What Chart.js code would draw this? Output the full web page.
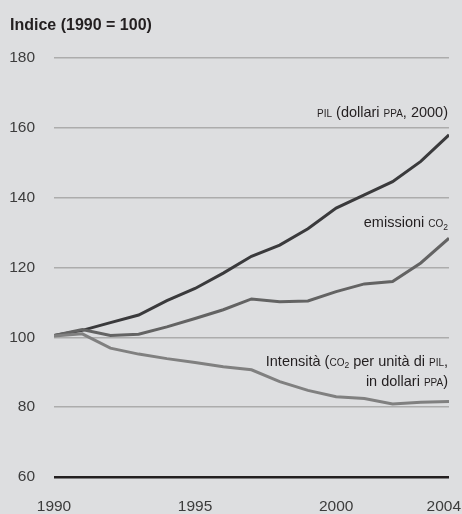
<!DOCTYPE html>
<html>
<head>
<meta charset="utf-8">
<script src="https://cdn.jsdelivr.net/npm/chart.js@4"></script>
<style>
html, body { margin: 0; padding: 0; background: #dddee0; }
canvas { display: block; }
</style>
</head>
<body>
<canvas id="indexChart" width="462" height="514"></canvas>
<script>
const years = [1990, 1991, 1992, 1993, 1994, 1995, 1996, 1997, 1998, 1999, 2000, 2001, 2002, 2003, 2004];
const xTicks = [1990, 1995, 2000, 2004];
const yTicks = [60, 80, 100, 120, 140, 160, 180];
const pil = [100.5, 102.0, 104.2, 106.4, 110.5, 114.0, 118.4, 123.2, 126.4, 131.1, 137.0, 140.8, 144.6, 150.4, 158.0];
const co2 = [100.5, 102.2, 100.5, 100.9, 103.0, 105.4, 107.9, 111.0, 110.2, 110.4, 113.1, 115.3, 116.0, 121.3, 128.4];
const intensity = [100.4, 101.0, 96.9, 95.2, 93.9, 92.8, 91.6, 90.7, 87.3, 84.8, 83.0, 82.5, 80.9, 81.4, 81.6];

const FONT = "'Liberation Sans', Arial, sans-serif";

function toPoints(values) {
    return years.map((yr, i) => ({ x: yr, y: values[i] }));
}

// text made of pieces: normal, small caps, subscript
function drawParts(ctx, parts, right, base) {
    let total = 0;
    parts.forEach(p => {
        ctx.font = p.size + "px " + FONT;
        p.w = ctx.measureText(p.t).width;
        total += p.w;
    });
    let x = right - total;
    parts.forEach(p => {
        ctx.font = p.size + "px " + FONT;
        ctx.fillText(p.t, x, base + (p.dy || 0));
        x += p.w;
    });
}

const M = 14.5, SC = 10, SUB = 8.5;

const labelsPlugin = {
    id: "labels",
    beforeDraw(chart) {
        // last year label sits flush with the right edge
        const items = chart.scales.x.getLabelItems();
        const last = items[items.length - 1];
        last.options.textAlign = "right";
        last.options.translation[0] = chart.width - 1;
    },
    afterDraw(chart) {
        const ctx = chart.ctx;
        const right = chart.chartArea.right - 1;
        ctx.save();
        ctx.fillStyle = "#231f20";
        ctx.textBaseline = "alphabetic";
        ctx.textAlign = "left";
        ctx.font = "bold 16px " + FONT;
        ctx.fillText("Indice (1990 = 100)", 10, 30);

        drawParts(ctx, [
            { t: "PIL", size: SC },
            { t: " (dollari ", size: M },
            { t: "PPA", size: SC },
            { t: ", 2000)", size: M }
        ], right, 117);

        drawParts(ctx, [
            { t: "emissioni ", size: M },
            { t: "CO", size: SC },
            { t: "2", size: SUB, dy: 3 }
        ], right, 227);

        drawParts(ctx, [
            { t: "Intensità (", size: M },
            { t: "CO", size: SC },
            { t: "2", size: SUB, dy: 2 },
            { t: " per unità di ", size: M },
            { t: "PIL", size: SC },
            { t: ",", size: M }
        ], right, 366);

        drawParts(ctx, [
            { t: "in dollari ", size: M },
            { t: "PPA", size: SC },
            { t: ")", size: M }
        ], right, 386);
        ctx.restore();
    }
};

const ctx = document.getElementById("indexChart").getContext("2d");
new Chart(ctx, {
    type: "line",
    data: {
        datasets: [
            { label: "Intensità", data: toPoints(intensity), borderColor: "#808080", borderWidth: 3 },
            { label: "emissioni CO2", data: toPoints(co2), borderColor: "#636363", borderWidth: 3 },
            { label: "PIL", data: toPoints(pil), borderColor: "#3a3a3c", borderWidth: 3 }
        ]
    },
    options: {
        responsive: false,
        animation: false,
        layout: { padding: { top: 58, right: 13, left: 0, bottom: 0 } },
        elements: {
            point: { radius: 0 },
            line: { tension: 0, borderJoinStyle: "miter", borderCapStyle: "butt" }
        },
        plugins: {
            legend: { display: false },
            tooltip: { enabled: false }
        },
        scales: {
            x: {
                type: "linear",
                min: 1990,
                max: 2004,
                afterBuildTicks: axis => { axis.ticks = xTicks.map(v => ({ value: v })); },
                afterFit: axis => { axis.height = 37; axis.paddingLeft = 0; axis.paddingRight = 0; },
                grid: { display: false, drawTicks: false },
                border: { display: false },
                ticks: {
                    padding: 20,
                    color: "#3c3c3c",
                    font: { family: FONT, size: 15.5 },
                    maxRotation: 0,
                    callback: v => String(v)
                }
            },
            y: {
                min: 60,
                max: 180,
                afterBuildTicks: axis => { axis.ticks = yTicks.map(v => ({ value: v })); },
                afterFit: axis => { axis.width = 54; },
                grid: {
                    drawTicks: false,
                    color: c => c.tick && c.tick.value === 60 ? "#231f20" : "#acacac",
                    lineWidth: c => c.tick && c.tick.value === 60 ? 2.5 : 1.5
                },
                border: { display: false },
                ticks: {
                    padding: 19,
                    color: "#3c3c3c",
                    font: { family: FONT, size: 15.5 }
                }
            }
        }
    },
    plugins: [labelsPlugin]
});
</script>
</body>
</html>
